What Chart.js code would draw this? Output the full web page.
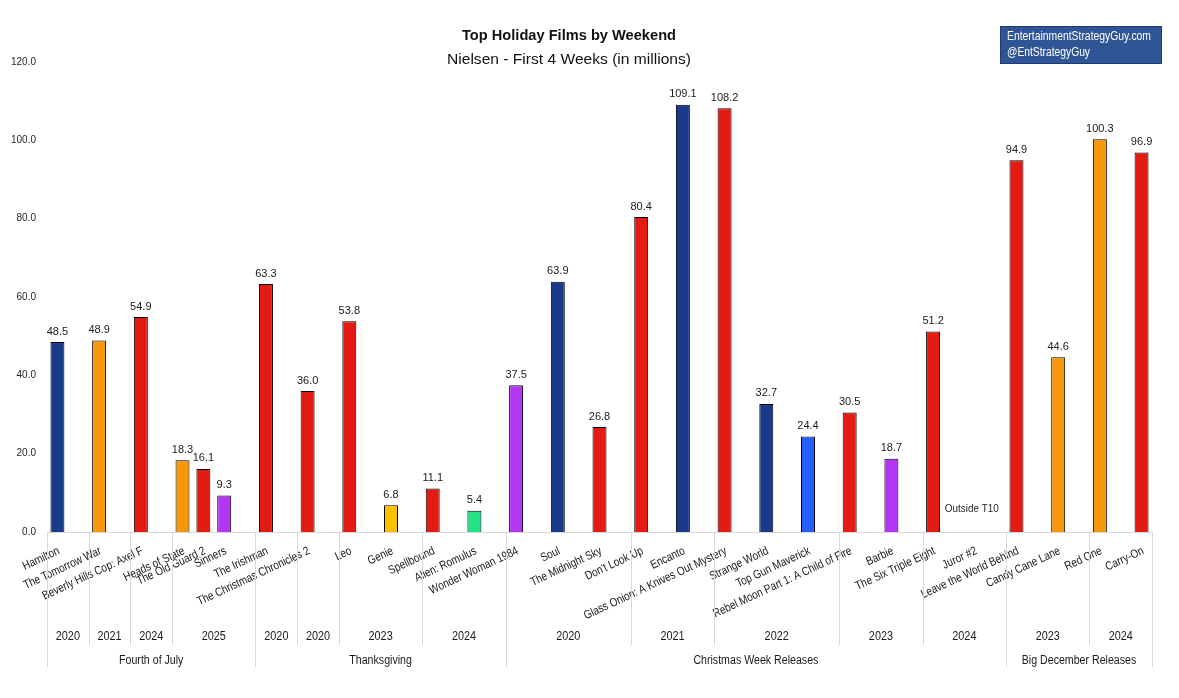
<!DOCTYPE html>
<html><head><meta charset="utf-8">
<script src="https://cdn.jsdelivr.net/npm/chart.js@4.4.1/dist/chart.umd.min.js"></script>
<style>html,body{margin:0;padding:0;background:#fff}canvas{display:block}</style>
</head><body>
<canvas id="c" width="1179" height="698"></canvas>
<script>
// ---------- DATA ----------
const films = [
  "Hamilton","The Tomorrow War","Beverly Hills Cop: Axel F","Heads of State","The Old Guard 2","Sinners",
  "The Irishman","The Christmas Chronicles 2","Leo","Genie","Spellbound","Alien: Romulus",
  "Wonder Woman 1984","Soul","The Midnight Sky","Don't Look Up","Encanto","Glass Onion: A Knives Out Mystery",
  "Strange World","Top Gun Maverick","Rebel Moon Part 1: A Child of Fire","Barbie","The Six Triple Eight","Juror #2",
  "Leave the World Behind","Candy Cane Lane","Red One","Carry-On"
];
const values = [
  48.5, 48.9, 54.9, 18.3, 16.1, 9.3,
  63.3, 36.0, 53.8, 6.8, 11.1, 5.4,
  37.5, 63.9, 26.8, 80.4, 109.1, 108.2,
  32.7, 24.4, 30.5, 18.7, 51.2, null,
  94.9, 44.6, 100.3, 96.9
];
const platforms = [
  "Disney+","Prime Video","Netflix","Prime Video","Netflix","Max",
  "Netflix","Netflix","Netflix","Peacock","Netflix","Hulu",
  "Max","Disney+","Netflix","Netflix","Disney+","Netflix",
  "Disney+","Paramount+","Netflix","Max","Netflix","Max",
  "Netflix","Prime Video","Prime Video","Netflix"
];
const platformColors = {
  "Disney+":"#1a3a8a","Prime Video":"#f7980a","Netflix":"#e31b12","Max":"#b436f5",
  "Hulu":"#1ee681","Paramount+":"#2460ff","Peacock":"#ffc000"
};
// films packed tightly with the next film (no empty half-slot after them)
const packedWithNext = ["Heads of State","The Old Guard 2"];
const yearLabels = ["2020","2021","2024","2025","2020","2020","2023","2024","2020","2021","2022","2023","2024","2023","2024"];
const yearCounts = [1,1,1,3,1,1,2,2,3,2,3,2,2,2,2];
const eventLabels = ["Fourth of July","Thanksgiving","Christmas Week Releases","Big December Releases"];
const eventCounts = [6,6,12,4];
const notRankedNote = "Outside T10";
const yTicks = [0,20,40,60,80,100,120];
const titleText = "Top Holiday Films by Weekend";
const subtitleText = "Nielsen - First 4 Weeks (in millions)";
const creditLines = ["EntertainmentStrategyGuy.com","@EntStrategyGuy"];

// ---------- BUILD CATEGORIES ----------
const catLabels = [], catValues = [], catColors = [], filmCat = [];
films.forEach((f,i)=>{
  filmCat.push(catLabels.length);
  catLabels.push(f); catValues.push(values[i]); catColors.push(platformColors[platforms[i]]);
  if (!packedWithNext.includes(f)) { catLabels.push(""); catValues.push(null); catColors.push("#fff"); }
});
catLabels.pop(); catValues.pop(); catColors.pop();

const arial = "'Liberation Sans',Arial,sans-serif";

function drawText(ctx, text, x, y, font, sx, align, baseline, rot, color){
  ctx.save();
  ctx.translate(x, y);
  if (rot) ctx.rotate(rot);
  ctx.scale(sx, 1);
  ctx.font = font; ctx.textAlign = align; ctx.textBaseline = baseline; ctx.fillStyle = color;
  ctx.fillText(text, 0, 0);
  ctx.restore();
}
function fitText(ctx, text, x, y, font, width, align, baseline, color){
  ctx.save(); ctx.font = font; const w = ctx.measureText(text).width; ctx.restore();
  drawText(ctx, text, x, y, font, width / w, align, baseline, 0, color);
}

const decor = {
  id:'decor',
  afterDatasetsDraw(chart){
    const ctx = chart.ctx, xs = chart.scales.x, ys = chart.scales.y;
    const meta = chart.getDatasetMeta(0);
    ctx.save();
    ctx.font = "11px " + arial;
    ctx.fillStyle = "#1a1a1a";
    ctx.textAlign = "center"; ctx.textBaseline = "bottom";
    meta.data.forEach((el,i)=>{
      const v = catValues[i];
      if (v === null || v === undefined) return;
      ctx.fillText(v.toFixed(1), el.x, el.y - 5);
    });
    ctx.restore();
    films.forEach((f,i)=>{
      const px = xs.getPixelForValue(filmCat[i]);
      if (values[i] === null) {
        drawText(ctx, notRankedNote, px - 3, ys.getPixelForValue(0) - 23, "11.5px " + arial, 0.86, "center", "middle", 0, "#262626");
      }
      // rotated film label
      drawText(ctx, f, px - 1, ys.getPixelForValue(0) + 13, "12px " + arial, 0.83, "right", "top", -25 * Math.PI / 180, "#1a1a1a");
    });
  },
  afterDraw(chart){
    const ctx = chart.ctx, xs = chart.scales.x, ca = chart.chartArea;
    const half = (xs.getPixelForValue(1) - xs.getPixelForValue(0)) / 2;
    const leftEdge = i => i < films.length ? xs.getPixelForValue(filmCat[i]) - half : ca.right;
    const y0 = ca.bottom;
    ctx.save();
    ctx.strokeStyle = "#d9d9d9"; ctx.lineWidth = 1;
    const vline = (x, y1) => { const px = Math.round(x) + 0.5; ctx.beginPath(); ctx.moveTo(px, y0); ctx.lineTo(px, y1); ctx.stroke(); };
    let s = 0;
    yearCounts.forEach((n,g)=>{
      const xl = leftEdge(s), xr = leftEdge(s+n);
      vline(xl, 645); vline(xr, 645);
      drawText(ctx, yearLabels[g], (xl+xr)/2, 637, "12.5px " + arial, 0.87, "center", "middle", 0, "#1a1a1a");
      s += n;
    });
    s = 0;
    eventCounts.forEach((n,g)=>{
      const xl = leftEdge(s), xr = leftEdge(s+n);
      vline(xl, 667); vline(xr, 667);
      drawText(ctx, eventLabels[g], (xl+xr)/2, 661, "12.5px " + arial, 0.85, "center", "middle", 0, "#1a1a1a");
      s += n;
    });
    ctx.restore();
    // titles
    fitText(ctx, titleText, 569, 36, "bold 15px " + arial, 214, "center", "middle", "#111");
    fitText(ctx, subtitleText, 569, 60, "15px " + arial, 244, "center", "middle", "#111");
    // credit box
    ctx.save();
    ctx.fillStyle = "#2f5597"; ctx.fillRect(1000, 26, 162, 38);
    ctx.strokeStyle = "#1f3a78"; ctx.lineWidth = 1; ctx.strokeRect(1000.5, 26.5, 161, 37);
    ctx.restore();
    fitText(ctx, creditLines[0], 1007, 37, "12.5px " + arial, 144, "left", "middle", "#ffffff");
    fitText(ctx, creditLines[1], 1007, 53, "12.5px " + arial, 83, "left", "middle", "#ffffff");
  }
};

new Chart(document.getElementById('c'), {
  type:'bar',
  data:{ labels: catLabels, datasets:[{
    data: catValues, backgroundColor: catColors, borderColor:'#000', borderWidth:1,
    barPercentage:0.67, categoryPercentage:1
  }]},
  options:{
    responsive:false, animation:false, devicePixelRatio:1,
    layout:{ padding:{ top:62, right:27, bottom:0, left:0 } },
    plugins:{ legend:{display:false}, tooltip:{enabled:false}, title:{display:false} },
    scales:{
      x:{
        grid:{ display:false, drawTicks:false },
        border:{ display:true, color:'#d9d9d9', width:1 },
        ticks:{ display:false, autoSkip:false },
        afterFit(scale){ scale.height = 166; }
      },
      y:{
        min:0, max:120,
        grid:{ display:false, drawTicks:false },
        border:{ display:false },
        afterBuildTicks(scale){ scale.ticks = yTicks.map(v=>({value:v})); },
        ticks:{ padding:11, color:'#262626', font:{ family:arial, size:10 }, callback:v=>Number(v).toFixed(1) },
        afterFit(scale){ scale.width = 47; }
      }
    }
  },
  plugins:[decor]
});
</script>
</body></html>
